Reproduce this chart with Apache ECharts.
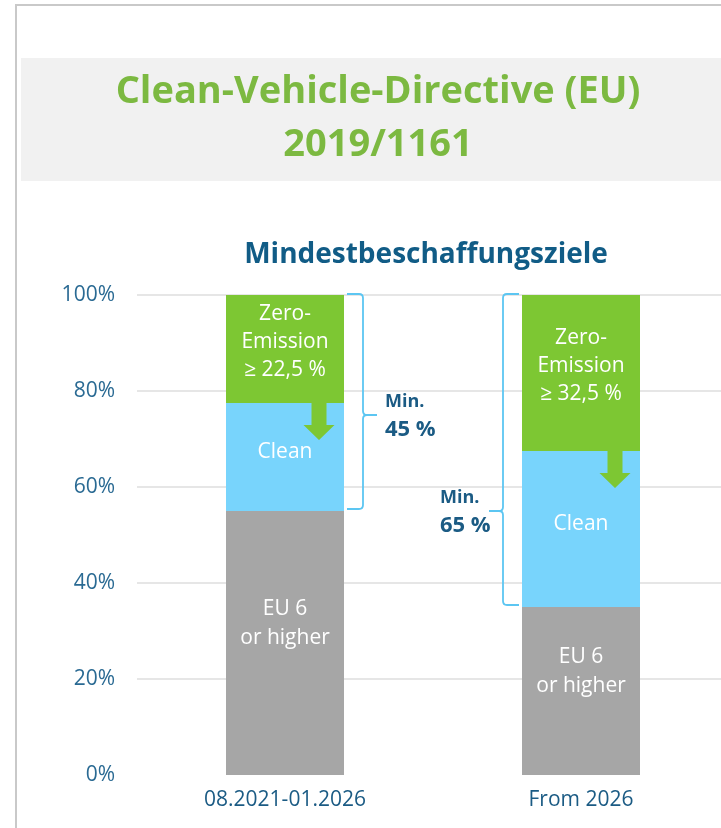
<!DOCTYPE html>
<html lang="de">
<head>
<meta charset="UTF-8">
<title>Clean-Vehicle-Directive</title>
<style>
  html, body { margin: 0; padding: 0; background: #fff; overflow: hidden; }
  #main { width: 729px; height: 828px; }
</style>
</head>
<body>
<div id="main"></div>
<script src="https://cdn.jsdelivr.net/npm/echarts@6/dist/echarts.min.js"></script>
<script>
// data
var periods = ['08.2021-01.2026', 'From 2026'];
var eu6Share = [55, 35];
var cleanShare = [22.5, 32.5];
var zeroShare = [22.5, 32.5];
var zeroLabels = ['Zero-\nEmission\n≥ 22,5 %', 'Zero-\nEmission\n≥ 32,5 %'];
var minValues = ['45 %', '65 %'];
var minFrom = [55, 35];      // brace spans from here to 100 %
var minTipAt = [75, 55];     // where the brace points to its label
var yTicks = [0, 20, 40, 60, 80, 100];

var green = '#7dc733', blue = '#78d4fc', grey = '#a6a6a6';
var navy = '#1b5b84';
var font = '"Open Sans", Roboto, sans-serif';
var barW = 118;

var myChart = echarts.init(document.getElementById('main'));

// arrow pointing from zero-emission segment down into clean
function renderArrow(params, api) {
  var p = api.coord([api.value(0), api.value(1)]);
  var cx = p[0] + 34, y = p[1], L = 37, hl = 15;
  return {
    type: 'polygon',
    shape: { points: [
      [cx - 7.5, y], [cx + 7.5, y], [cx + 7.5, y + L - hl], [cx + 15.5, y + L - hl],
      [cx, y + L], [cx - 15.5, y + L - hl], [cx - 7.5, y + L - hl]
    ] },
    style: { fill: green }
  };
}

// curly bracket with "Min. xx %" text
function renderBrace(params, api) {
  var i = params.dataIndex;
  var d = i === 0 ? 1 : -1;
  var top = api.coord([api.value(0), api.value(2)]);
  var bot = api.coord([api.value(0), api.value(1)]);
  var tip = api.coord([api.value(0), api.value(3)]);
  var x = top[0] + d * (barW / 2 + 19);
  var yT = top[1] - 1, yB = bot[1] - 2, yM = tip[1];
  var h = 16, r = 4, t = 14;
  var path = 'M' + (x - d * h) + ',' + yT +
    ' L' + (x - d * r) + ',' + yT +
    ' Q' + x + ',' + yT + ' ' + x + ',' + (yT + r) +
    ' L' + x + ',' + (yM - r) +
    ' Q' + x + ',' + yM + ' ' + (x + d * r) + ',' + yM +
    ' L' + (x + d * t) + ',' + yM +
    ' M' + (x + d * r) + ',' + yM +
    ' Q' + x + ',' + yM + ' ' + x + ',' + (yM + r) +
    ' L' + x + ',' + (yB - r) +
    ' Q' + x + ',' + yB + ' ' + (x - d * r) + ',' + yB +
    ' L' + (x - d * h) + ',' + yB;
  var tx = d === 1 ? x + 22 : x - 63;
  return {
    type: 'group',
    children: [
      { type: 'path', shape: { pathData: path },
        style: { fill: 'none', stroke: '#5cc6f2', lineWidth: 1.8 } },
      { type: 'text', x: tx, y: yM + 1,
        style: { text: '{a|Min.}\n{b|' + minValues[i] + '}', align: 'left', verticalAlign: 'middle',
          rich: {
            a: { fill: navy, font: 'bold 18px ' + font, lineHeight: 27 },
            b: { fill: navy, font: 'bold 22px ' + font, lineHeight: 29 }
          } } }
    ]
  };
}

myChart.setOption({
  animation: false,
  graphic: [
    { type: 'polyline', shape: { points: [[16, 830], [16, 5], [730, 5]] },
      style: { fill: 'none', stroke: '#c9c9c9', lineWidth: 2 }, z: 0 },
    { type: 'rect', shape: { x: 21, y: 58, width: 710, height: 123 },
      style: { fill: '#f1f1f1' }, z: 0 },
    { type: 'text', x: 378, y: 92, z: 1,
      style: { text: 'Clean-Vehicle-Directive (EU)', fill: '#7cb941',
        font: 'bold 38px ' + font, align: 'center', verticalAlign: 'middle' } },
    { type: 'text', x: 378, y: 145, z: 1,
      style: { text: '2019/1161', fill: '#7cb941',
        font: 'bold 38px ' + font, align: 'center', verticalAlign: 'middle' } },
    { type: 'text', x: 426, y: 255, z: 1,
      style: { text: 'Mindestbeschaffungsziele', fill: '#115c86',
        font: 'bold 28px ' + font, align: 'center', verticalAlign: 'middle' } }
  ],
  grid: { left: 137, right: 0, top: 295, bottom: 53 },
  xAxis: {
    type: 'category',
    data: periods,
    axisLine: { show: false },
    axisTick: { show: false },
    axisLabel: { color: navy, fontSize: 21, fontFamily: font, margin: 15 }
  },
  yAxis: {
    type: 'value',
    min: 0, max: 100, interval: 20,
    axisLabel: { color: '#2a6a93', fontSize: 21, fontFamily: font, margin: 22,
      formatter: function (v) { return yTicks.indexOf(v) >= 0 ? v + '%' : ''; } },
    splitLine: { showMinLine: false, lineStyle: { color: '#e6e6e6', width: 2 } }
  },
  series: [
    { name: 'EU 6', type: 'bar', stack: 'share', barWidth: barW, data: eu6Share,
      itemStyle: { color: grey },
      label: { show: true, position: 'inside', offset: [0, -19], color: '#fff',
        fontSize: 21, fontFamily: font, lineHeight: 29, formatter: 'EU 6\nor higher' } },
    { name: 'Clean', type: 'bar', stack: 'share', barWidth: barW, data: cleanShare,
      itemStyle: { color: blue },
      label: { show: true, position: 'inside', offset: [0, -5], color: '#fff',
        fontSize: 21, fontFamily: font, formatter: 'Clean' } },
    { name: 'Zero-Emission', type: 'bar', stack: 'share', barWidth: barW, data: zeroShare,
      itemStyle: { color: green },
      label: { show: true, position: 'inside', offset: [0, -7], color: '#fff',
        fontSize: 21, fontFamily: font, lineHeight: 28,
        formatter: function (p) { return zeroLabels[p.dataIndex]; } } },
    { type: 'custom', renderItem: renderArrow, z: 5,
      data: periods.map(function (c, i) { return [i, 100 - zeroShare[i]]; }) },
    { type: 'custom', renderItem: renderBrace, z: 5,
      data: periods.map(function (c, i) { return [i, minFrom[i], 100, minTipAt[i]]; }) }
  ]
});
</script>
</body>
</html>
